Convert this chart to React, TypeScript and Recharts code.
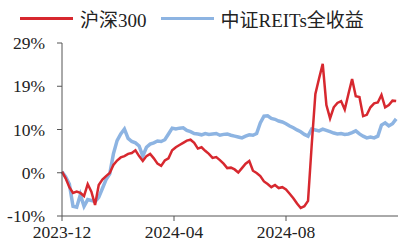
import React from "react";
import { LineChart, Line, XAxis, YAxis, Legend } from "recharts";

// day offsets from 2023-12-01
const days = [
  0, 4, 8, 12, 16, 20, 24, 28, 32, 36, 40, 44, 48, 52, 56, 60, 64, 68, 72, 76,
  80, 84, 88, 92, 96, 100, 104, 108, 112, 116, 120, 124, 128, 132, 136, 140,
  144, 148, 152, 156, 160, 164, 168, 172, 176, 180, 184, 188, 192, 196, 200,
  204, 208, 212, 216, 220, 224, 228, 232, 236, 240, 244, 248, 252, 256, 260,
  264, 268, 272, 276, 280, 284, 288, 292, 296, 300, 304, 308, 312, 316, 320,
  324, 328, 332, 336, 340, 344, 348, 352, 356, 360, 364,
];

const hs300 = [
  0, -1.5, -3.5, -4.8, -4.5, -4.8, -5.5, -2.8, -4.5, -7.5, -3.0, -1.8, -1.0,
  -0.3, 1.5, 2.5, 3.2, 3.5, 4.0, 4.2, 4.8, 3.5, 2.4, 3.5, 4.0, 3.0, 1.8, 1.3,
  2.5, 3.0, 4.8, 5.5, 6.0, 6.5, 7.0, 7.2, 6.5, 5.2, 5.5, 4.7, 4.0, 3.1, 3.3,
  2.6, 1.8, 0.8, 0.9, 0.5, -0.2, 0.8, 1.8, 2.4, 0.2, -0.3, -1.0, -2.2, -2.8,
  -3.5, -3.0, -3.7, -3.5, -4.0, -5.0, -6.0, -7.2, -8.2, -7.8, -6.6, 6.0, 17.5,
  21.0, 24.3, 15.0, 12.0, 14.5, 15.5, 15.9, 14.0, 17.5, 20.9, 17.0, 16.8, 12.5,
  12.8, 14.5, 15.4, 15.6, 17.3, 14.5, 15.0, 16.0, 15.9,
];

const reits = [
  0, -1.2, -2.8, -7.8, -8.0, -5.2, -7.8, -6.3, -6.5, -6.8, -5.8, -3.8, -1.8,
  -0.5, 4.0, 7.0, 8.5, 9.6, 7.5, 6.8, 6.5, 5.8, 3.5, 5.5, 6.2, 6.5, 6.9, 6.8,
  7.2, 8.5, 9.8, 9.6, 9.8, 9.9, 9.3, 9.0, 8.6, 8.5, 8.3, 8.6, 8.4, 8.5, 8.6,
  8.2, 8.4, 8.5, 8.2, 8.0, 7.8, 7.6, 8.0, 8.3, 8.2, 8.6, 11.0, 12.5, 12.6, 12.0,
  11.8, 11.4, 11.2, 10.8, 10.3, 9.9, 9.4, 9.0, 8.4, 8.0, 9.6, 9.4, 9.2, 9.6,
  9.3, 9.0, 8.7, 8.5, 8.6, 8.4, 8.5, 8.8, 9.2, 8.5, 8.0, 7.6, 7.8, 7.6, 8.0,
  10.5, 11.0, 10.3, 10.8, 11.9,
];

const xTickDays = [0, 122, 244];
const xTickLabels = ["2023-12", "2024-04", "2024-08"];
const yTicks = [-10, -0.25, 9.5, 19.25, 29];

const seriesNames = ["沪深300", "中证REITs全收益"];
const RED = "#d7282f";
const BLUE = "#8db4e2";

const data = days.map((d, i) => ({ day: d, hs300: hs300[i], reits: reits[i] }));

const FONT = '"Liberation Serif", "Times New Roman", "Noto Sans CJK SC", serif';

const LegendBox = () => {
  const items = [
    { name: seriesNames[0], color: RED },
    { name: seriesNames[1], color: BLUE },
  ];
  return (
    <div style={{ display: "flex", alignItems: "center", paddingLeft: 20, height: 36, fontFamily: FONT, fontSize: 19, color: "#222" }}>
      {items.map((it) => (
        <div key={it.name} style={{ display: "flex", alignItems: "center", marginRight: 14 }}>
          <div style={{ width: 53, height: 3, background: it.color, marginRight: 7 }} />
          <span>{it.name}</span>
        </div>
      ))}
    </div>
  );
};

export default function App() {
  return (
    <div style={{ position: "absolute", left: 0, top: 0, fontFamily: FONT }}>
      <LineChart width={398} height={244} data={data} margin={{ top: 7, right: 0, bottom: 2, left: 0 }}>
        <Legend verticalAlign="top" align="left" content={<LegendBox />} wrapperStyle={{ top: 0, left: 0, height: 36 }} />
        <XAxis
          dataKey="day"
          type="number"
          domain={[0, 366]}
          ticks={xTickDays}
          tickFormatter={(v) => xTickLabels[xTickDays.indexOf(v)]}
          tick={{ fill: "#222", fontSize: 17.5, fontFamily: FONT }}
          tickSize={5}
          tickMargin={5}
          stroke="#555"
          height={26}
        />
        <YAxis
          domain={[-10, 29]}
          ticks={yTicks}
          tickFormatter={(v) => `${Math.round(v)}%`}
          tick={{ fill: "#222", fontSize: 17.5, fontFamily: FONT }}
          tickSize={5}
          tickMargin={12}
          stroke="#555"
          width={62}
          interval={0}
        />
        <Line dataKey="reits" stroke={BLUE} strokeWidth={3.5} dot={false} isAnimationActive={false} />
        <Line dataKey="hs300" stroke={RED} strokeWidth={2.5} dot={false} isAnimationActive={false} />
      </LineChart>
    </div>
  );
}
